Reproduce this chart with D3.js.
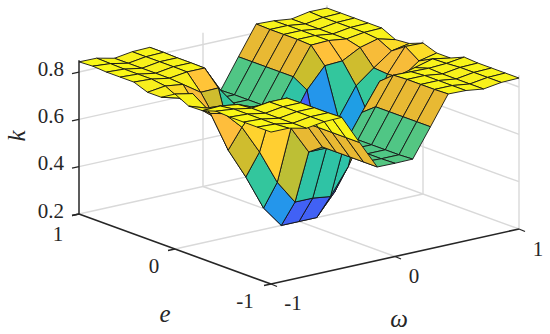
<!DOCTYPE html>
<html><head><meta charset="utf-8">
<script src="https://d3js.org/d3.v7.min.js"></script>
<style>html,body{margin:0;background:#fff}svg{display:block}text{font-family:"Liberation Serif","Times New Roman",serif;fill:#262626}</style>
</head><body><svg id="c" width="550" height="334"></svg>
<script>
const omegaGrid=[-1,-0.857,-0.714,-0.571,-0.429,-0.286,-0.143,0,0.143,0.286,0.429,0.571,0.714,0.857,1];
const eGrid=[1,0.857,0.714,0.571,0.429,0.286,0.143,0,-0.143,-0.286,-0.429,-0.571,-0.714,-0.857,-1];
const kRows=[
[.843,.842,.825,.836,.838,.715,.592,.590,.590,.715,.837,.834,.825,.839,.838],
[.846,.840,.825,.836,.838,.715,.595,.592,.592,.715,.835,.835,.825,.836,.838],
[.842,.838,.825,.836,.836,.715,.595,.592,.592,.715,.835,.835,.825,.836,.838],
[.842,.838,.825,.836,.836,.715,.595,.592,.592,.715,.835,.835,.825,.836,.838],
[.842,.838,.825,.835,.835,.715,.595,.592,.592,.715,.832,.835,.825,.836,.838],
[.820,.830,.820,.770,.772,.680,.553,.553,.553,.680,.766,.770,.810,.830,.810],
[.820,.800,.745,.686,.565,.420,.320,.320,.320,.420,.565,.686,.745,.800,.815],
[.855,.840,.740,.568,.438,.290,.200,.200,.200,.290,.438,.568,.740,.840,.838],
[.825,.800,.760,.686,.565,.420,.320,.320,.310,.420,.565,.686,.745,.800,.817],
[.827,.830,.820,.790,.785,.670,.553,.553,.550,.670,.785,.790,.810,.830,.817],
[.846,.838,.825,.835,.835,.715,.595,.592,.592,.715,.832,.830,.828,.832,.842],
[.842,.838,.825,.836,.836,.715,.595,.592,.592,.715,.835,.835,.825,.836,.838],
[.842,.838,.825,.836,.836,.715,.595,.592,.592,.715,.835,.835,.825,.836,.838],
[.842,.838,.825,.836,.836,.715,.595,.592,.592,.715,.835,.835,.825,.836,.838],
[.842,.842,.825,.836,.838,.715,.595,.594,.595,.715,.837,.835,.825,.836,.838]];
const kTicks=[0.2,0.4,0.6,0.8];
const eTicks=[1,0,-1];
const omegaTicks=[-1,0,1];
const colorStops=[0,.143,.286,.429,.571,.73,.78,.857,.89,.95,1];
const colorValues=["#3e26a8","#4852f4","#2e87f7","#12b1d6","#37c897","#c8be2d","#e6b932","#ffbe3c","#ffcd32","#f8f01c","#f9fb14"];

const svg=d3.select("#c");
const ox=79,oy=214;
const wX=d3.scaleLinear([-1,1],[0,248]),wY=d3.scaleLinear([-1,1],[0,-55]);
const eX=d3.scaleLinear([1,-1],[0,192]),eY=d3.scaleLinear([1,-1],[0,70]);
const kY=d3.scaleLinear([0.2,0.85],[0,-153.8]);
const P=(w,e,k)=>[ox+wX(w)+eX(e),oy+wY(w)+eY(e)+kY(k)];
const color=d3.scaleLinear().domain(colorStops.map(t=>0.2+t*0.655)).range(colorValues).clamp(true);
const seg=(a,b,s,sw)=>svg.append("path").attr("d",d3.line()([a,b])).attr("fill","none").attr("stroke",s).attr("stroke-width",sw);
const grid="#d9d9d9";
kTicks.forEach(k=>{seg(P(-1,1,k),P(1,1,k),grid,1.4);seg(P(1,1,k),P(1,-1,k),grid,1.4);});
[0].forEach(v=>{
 seg(P(v,1,.2),P(v,1,.85),grid,1.4);
 seg(P(1,v,.2),P(1,v,.85),grid,1.4);
 seg(P(v,1,.2),P(v,-1,.2),grid,1.4);
 seg(P(-1,v,.2),P(1,v,.2),grid,1.4);
});
seg(P(1,1,.2),P(1,1,.85),grid,1.4);
seg(P(1,-1,.2),P(1,-1,.85),grid,1.4);
const ax="#262626";
seg(P(-1,1,.2),P(-1,1,.85),ax,1.5);
seg(P(-1,1,.2),P(-1,-1,.2),ax,1.6);
seg(P(-1,-1,.2),P(1,-1,.2),ax,1.6);
kTicks.forEach(k=>{const p=P(-1,1,k);seg(p,[p[0]-7,p[1]+1.5],ax,1.3);});
eTicks.forEach(e=>{const p=P(-1,e,.2);seg(p,[p[0]-7,p[1]+1.5],ax,1.3);});
omegaTicks.forEach(w=>{const p=P(w,-1,.2);seg(p,[p[0]+6,p[1]+2.5],ax,1.3);});
const quads=[];
for(let i=omegaGrid.length-2;i>=0;i--)for(let j=0;j<eGrid.length-1;j++){
 quads.push({i,j,pts:[[i,j],[i+1,j],[i+1,j+1],[i,j+1]].map(([a,b])=>P(omegaGrid[a],eGrid[b],kRows[b][a])),c:kRows[j+1][i]});
}
svg.append("g").selectAll("path").data(quads).join("path")
 .attr("d",d=>d3.line()(d.pts)+"Z").attr("fill",d=>color(d.c))
 .attr("stroke","#141414").attr("stroke-width",0.9).attr("stroke-linejoin","round");
const lab=(x,y,t,o={})=>svg.append("text").attr("x",x).attr("y",y).attr("text-anchor",o.a||"middle").attr("font-size",o.s||21).attr("font-style",o.i?"italic":null).attr("transform",o.r?`rotate(${o.r} ${x} ${y})`:null).text(t);
kTicks.forEach(k=>{const p=P(-1,1,k);lab(64,p[1]+3.5,k.toFixed(1),{a:"end"});});
const eLab=[[58,241],[154,273],[245,308]];
eTicks.forEach((v,n)=>lab(eLab[n][0],eLab[n][1],v));
const wLab=[[293,310],[414,283],[538,256]];
omegaTicks.forEach((v,n)=>lab(wLab[n][0],wLab[n][1],v));
lab(25,136,"k",{i:1,r:-90,s:25});
lab(165,322,"e",{i:1,s:25});
lab(399,327,"ω",{i:1,s:25});
</script></body></html>
